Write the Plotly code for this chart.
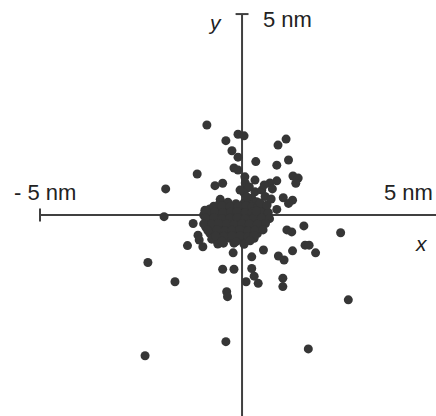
import plotly.graph_objects as go

# Scatter positions (nm)
x_outer = [-0.87, -0.40, -0.10, 0.05, -0.25, -0.10, -0.20, -0.10, -1.11, -1.89,
           -0.67, -0.48, -0.54, -1.93, 0.07, 0.32, 0.34, 0.89, 1.09, 1.15,
           0.86, 1.26, 1.39, 1.33, 0.86, 0.69, 0.12, 0.32, 0.24, 0.36,
           0.49, 0.57, 1.02, 1.25, 0.86, -0.92, -0.67, -1.21, -1.09, -0.97,
           -1.35, -1.06, 1.11, 1.23, 1.53, 1.56, 1.66, 1.82, 1.25, 0.90,
           1.04, 0.53, 0.24, -0.22, -0.48, -0.20, 0.24, 0.30, 0.40, 0.10,
           1.01, 1.01, -0.38, -0.36, -2.33, -1.66, -0.61, -0.46, 2.44, 2.63,
           -0.40, -2.40, 1.64, 1.15]
y_outer = [2.24, 1.85, 2.01, 1.97, 1.60, 1.44, 1.17, 1.12, 1.02, 0.65,
           0.73, 0.79, 0.39, -0.04, 0.95, 0.87, 1.33, 1.74, 1.89, 1.37,
           1.24, 0.97, 0.92, 0.79, 0.85, 0.80, 0.67, 0.58, 0.42, 0.33,
           0.62, 0.46, 0.43, 0.37, 0.14, 0.12, 0.08, -0.21, -0.50, -0.79,
           -0.76, -0.62, -0.37, -0.42, -0.27, -0.75, -0.75, -0.94, -0.89, -1.02,
           -1.12, -0.87, -1.04, -0.94, -1.35, -1.35, -1.33, -1.52, -1.70, -1.66,
           -1.57, -1.78, -1.91, -2.03, -1.18, -1.66, -0.66, -0.70, -0.44, -2.11,
           -3.15, -3.50, -3.33, 0.29]

x_core = [-0.55, -0.35, -0.15, 0.05, 0.17,
          -0.80, -0.60, -0.42, -0.25, -0.05, 0.10, 0.30, 0.50,
          -0.95, -0.75, -0.55, -0.37, -0.20, 0.00, 0.20, 0.40, 0.60,
          -0.85, -0.65, -0.47, -0.30, -0.10, 0.10, 0.30, 0.52,
          -0.90, -0.70, -0.50, -0.30, -0.15, 0.05, 0.25, 0.45,
          -0.80, -0.55, -0.35, -0.20, 0.00, 0.20, 0.38,
          -0.75, -0.30, -0.10, 0.10, 0.30,
          -0.60, -0.20, 0.05,
          -0.70, -0.50, -0.30, -0.10, 0.10, 0.25, 0.40,
          -0.88, -0.68, -0.48, -0.28, -0.12, 0.08, 0.25, 0.45, 0.65,
          -0.90, -0.70, -0.50, -0.30, -0.12, 0.08, 0.28, 0.48, 0.68,
          -0.95, -0.75, -0.58, -0.38, -0.20, 0.00, 0.18, 0.38, 0.58,
          -0.85, -0.62, -0.42, -0.25, -0.05, 0.15, 0.32, 0.52,
          -0.65, -0.45, -0.25, -0.05, 0.15, 0.30,
          -0.50, -0.15, 0.20,
          0.05, 0.08, 0.45, 0.62, 0.72, 0.75, 0.55, 0.18, 0.12, 0.35, -0.05]
y_core = [0.30, 0.32, 0.28, 0.30, 0.27,
          0.15, 0.17, 0.13, 0.16, 0.14, 0.15, 0.17, 0.13,
          0.00, 0.02, -0.02, 0.01, -0.01, 0.02, 0.00, -0.02, 0.01,
          -0.15, -0.17, -0.13, -0.16, -0.14, -0.15, -0.17, -0.14,
          -0.30, -0.32, -0.28, -0.31, -0.29, -0.30, -0.32, -0.29,
          -0.45, -0.47, -0.43, -0.46, -0.45, -0.44, -0.46,
          -0.60, -0.58, -0.62, -0.60, -0.58,
          -0.72, -0.70, -0.73,
          0.22, 0.23, 0.21, 0.22, 0.24, 0.21, 0.22,
          0.07, 0.08, 0.06, 0.07, 0.09, 0.06, 0.07, 0.08, 0.06,
          -0.08, -0.07, -0.09, -0.08, -0.06, -0.09, -0.08, -0.07, -0.09,
          -0.22, -0.23, -0.21, -0.22, -0.24, -0.21, -0.22, -0.23, -0.21,
          -0.38, -0.37, -0.39, -0.38, -0.36, -0.39, -0.38, -0.37,
          -0.52, -0.53, -0.51, -0.52, -0.54, -0.51,
          -0.65, -0.66, -0.64,
          0.55, 0.80, 0.30, 0.25, 0.40, 0.65, 0.75, 0.70, 0.45, 0.10, 0.62]

axis_x_line = [-5, 5.2]
axis_y_line = [-5.2, 5]
tick_len = 0.16

dot_color = "#363636"
line_color = "#404040"

fig = go.Figure()

# axes
fig.add_trace(go.Scatter(x=axis_x_line, y=[0, 0], mode="lines",
                         line=dict(color=line_color, width=2), hoverinfo="skip"))
fig.add_trace(go.Scatter(x=[0, 0], y=axis_y_line, mode="lines",
                         line=dict(color=line_color, width=2), hoverinfo="skip"))
fig.add_trace(go.Scatter(x=[-5, -5], y=[-tick_len, tick_len], mode="lines",
                         line=dict(color=line_color, width=2), hoverinfo="skip"))
fig.add_trace(go.Scatter(x=[-tick_len, tick_len], y=[5, 5], mode="lines",
                         line=dict(color=line_color, width=2), hoverinfo="skip"))

# points
fig.add_trace(go.Scatter(x=x_outer + x_core, y=y_outer + y_core, mode="markers",
                         marker=dict(color=dot_color, size=9, line=dict(width=0))))

font = dict(family="Liberation Sans, Arial, sans-serif", size=22, color="#222222")
ifont = dict(family="Liberation Sans, Arial, sans-serif", size=21, color="#222222")

fig.add_annotation(x=0.47, y=4.86, text="5 nm", showarrow=False, xanchor="left",
                   yanchor="middle", font=font)
fig.add_annotation(x=-0.67, y=4.78, text="<i>y</i>", showarrow=False, xanchor="center",
                   yanchor="middle", font=ifont)
fig.add_annotation(x=-5.70, y=0.55, text="- 5 nm", showarrow=False, xanchor="left",
                   yanchor="middle", font=font)
fig.add_annotation(x=4.78, y=0.55, text="5 nm", showarrow=False, xanchor="right",
                   yanchor="middle", font=font)
fig.add_annotation(x=4.45, y=-0.70, text="<i>x</i>", showarrow=False, xanchor="center",
                   yanchor="middle", font=ifont)

fig.update_layout(
    width=436, height=416,
    margin=dict(l=0, r=0, t=0, b=0),
    paper_bgcolor="white", plot_bgcolor="white",
    showlegend=False,
    xaxis=dict(range=[-5.99, 4.80], visible=False, fixedrange=True),
    yaxis=dict(range=[-5.0, 5.35], visible=False, fixedrange=True),
)

fig.write_html("out.html", config={"displayModeBar": False},
               post_script="document.body.style.margin='0px';document.body.style.overflow='hidden';")
